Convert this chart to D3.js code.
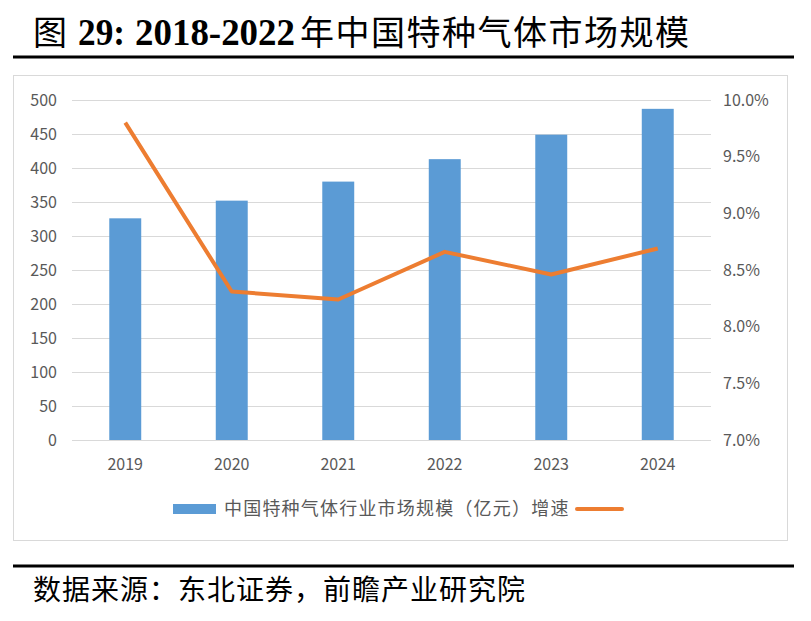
<!DOCTYPE html>
<html>
<head>
<meta charset="utf-8">
<script src="https://cdnjs.cloudflare.com/ajax/libs/d3/7.8.5/d3.min.js"></script>
<style>
  body { margin: 0; background: #fff; }
  #graph text { font-family: "Noto Sans CJK SC", "Noto Sans", sans-serif; }
</style>
</head>
<body>
<div id="graph"></div>
<script>
// data
var years = ["2019", "2020", "2021", "2022", "2023", "2024"];
var marketSize = [326, 352, 380, 413, 449, 487];      // 亿元
var growthRate = [9.80, 8.31, 8.24, 8.66, 8.46, 8.69]; // %
var leftTicks = [0, 50, 100, 150, 200, 250, 300, 350, 400, 450, 500];
var rightTicks = [7.0, 7.5, 8.0, 8.5, 9.0, 9.5, 10.0];

var width = 811, height = 621;
var barColour = "#5b9bd5", lineColour = "#ed7d31", textColour = "#595959";

var svg = d3.select("#graph")
            .append("svg")
            .attr("width", width)
            .attr("height", height);

// title
var title = svg.append("text")
               .attr("y", 45)
               .style("font-size", "34px")
               .style("fill", "#000");
title.append("tspan").attr("x", 33).text("图");
title.append("tspan").attr("x", 78)
     .attr("textLength", 47).attr("lengthAdjust", "spacingAndGlyphs")
     .style("font-family", "'Liberation Serif', serif").style("font-weight", "bold")
     .style("font-size", "37px")
     .text("29:");
title.append("tspan").attr("x", 135)
     .attr("textLength", 160).attr("lengthAdjust", "spacingAndGlyphs")
     .style("font-family", "'Liberation Serif', serif").style("font-weight", "bold")
     .style("font-size", "37px")
     .text("2018-2022");
title.append("tspan").attr("x", 300).style("letter-spacing", "1.5px").text("年中国特种气体市场规模");

svg.append("line")
   .attr("x1", 13).attr("x2", 794).attr("y1", 57).attr("y2", 57)
   .style("stroke", "#000").style("stroke-width", 3);

// chart frame
svg.append("rect")
   .attr("x", 13.5).attr("y", 75.5).attr("width", 774).attr("height", 465)
   .style("fill", "none").style("stroke", "#d9d9d9");

// scales
var x_scale = d3.scaleBand()
                .domain(years)
                .range([72, 711])
                .paddingInner(0.7)
                .paddingOuter(0.35);

var y_left = d3.scaleLinear().domain([0, 500]).range([440, 100]);
var y_right = d3.scaleLinear().domain([7, 10]).range([440, 100]);

// gridlines + left axis
var leftAxis = svg.append("g")
   .attr("transform", "translate(72,0)")
   .call(d3.axisLeft(y_left).tickValues(leftTicks).tickSize(-(711 - 72)).tickPadding(15));
leftAxis.select(".domain").remove();
leftAxis.selectAll(".tick line").style("stroke", "#d9d9d9").style("stroke-width", 1);
leftAxis.selectAll("text").style("font-size", "16px").style("fill", textColour);

var rightAxis = svg.append("g")
   .attr("transform", "translate(711,0)")
   .call(d3.axisRight(y_right).tickValues(rightTicks).tickSize(0).tickPadding(12)
           .tickFormat(function (d) { return d.toFixed(1) + "%"; }));
rightAxis.select(".domain").remove();
rightAxis.selectAll("text").style("font-size", "16px").style("fill", textColour);

var bottomAxis = svg.append("g")
   .attr("transform", "translate(0,440)")
   .call(d3.axisBottom(x_scale).tickSize(0).tickPadding(19));
bottomAxis.select(".domain").remove();
bottomAxis.selectAll("text").style("font-size", "16px").style("fill", textColour);

// bars
svg.append("g")
   .selectAll("rect")
   .data(marketSize)
   .enter()
   .append("rect")
   .attr("x", function (d, i) { return x_scale(years[i]); })
   .attr("y", function (d) { return y_left(d); })
   .attr("width", x_scale.bandwidth())
   .attr("height", function (d) { return y_left(0) - y_left(d); })
   .style("fill", barColour);

// growth line
var line = d3.line()
             .x(function (d, i) { return x_scale(years[i]) + x_scale.bandwidth() / 2; })
             .y(function (d) { return y_right(d); });

svg.append("path")
   .datum(growthRate)
   .attr("d", line)
   .style("fill", "none")
   .style("stroke", lineColour)
   .style("stroke-width", 4)
   .style("stroke-linejoin", "round");

// legend
var legend = svg.append("g").attr("transform", "translate(0,509)");
legend.append("rect")
      .attr("x", 173).attr("y", -5).attr("width", 43).attr("height", 10)
      .style("fill", barColour);
legend.append("text")
      .attr("x", 224).attr("y", 0).attr("dy", "0.35em")
      .style("font-size", "18px").style("letter-spacing", "1.2px")
      .style("fill", textColour)
      .text("中国特种气体行业市场规模（亿元）增速");
legend.append("line")
      .attr("x1", 577).attr("x2", 622).attr("y1", 0).attr("y2", 0)
      .style("stroke", lineColour).style("stroke-width", 4)
      .style("stroke-linecap", "round");

// source
svg.append("line")
   .attr("x1", 13).attr("x2", 794).attr("y1", 566).attr("y2", 566)
   .style("stroke", "#000").style("stroke-width", 3);

svg.append("text")
   .attr("x", 33).attr("y", 600)
   .style("font-size", "28px").style("letter-spacing", "1px")
   .style("fill", "#000")
   .text("数据来源：东北证券，前瞻产业研究院");
</script>
</body>
</html>
